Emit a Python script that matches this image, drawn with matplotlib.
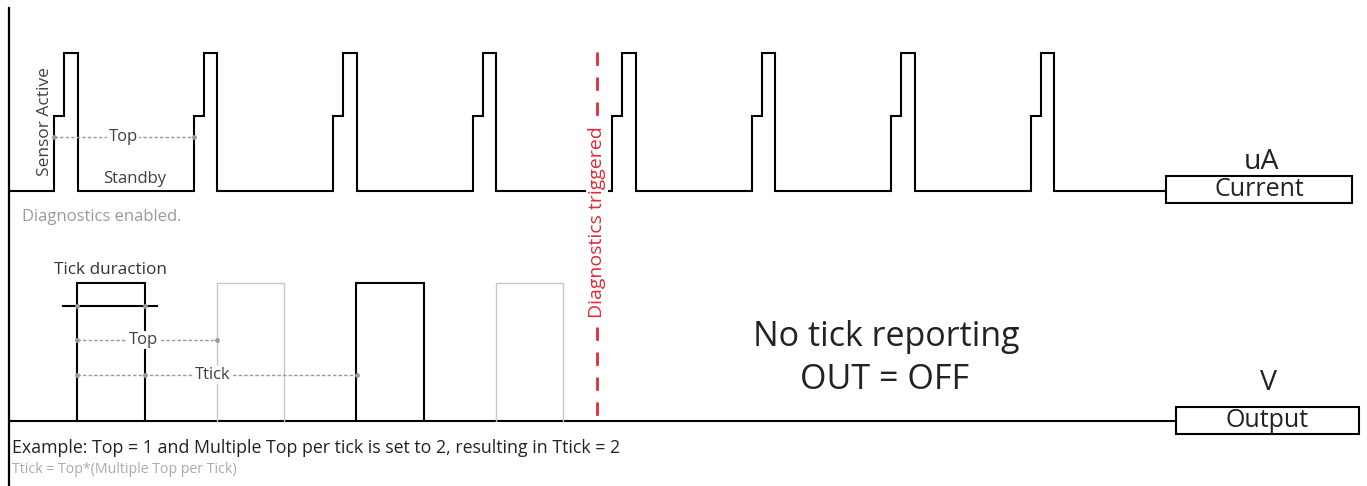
import numpy as np
import matplotlib.pyplot as plt
from matplotlib.patches import Rectangle

plt.rcParams['font.family'] = ['Open Sans', 'DejaVu Sans']

# Timing data, in units of Top (one sensor wake-up period)
pulse_starts = [0, 1, 2, 3, 4, 5, 6, 7]      # sensor active pulses
pulse_levels = [0.0, 0.54, 1.0]              # standby, first step, fully active
pulse_step = 0.072                           # time at first step level
pulse_len = 0.172                            # total pulse length
diag_time = 3.89                             # diagnostics triggered

tick_starts = [0.165, 1.165, 2.165, 3.165]   # output tick windows
tick_len = 0.487
tick_reported = [True, False, True, False]
tick_dur_span = (0.065, 0.738)
top_span_cur = (0.0, 1.0)
top_span_out = (0.165, 1.165)
ttick_span = (0.165, 2.172)

# Layout (pixels)
X0, PX_TOP = 54, 139.5
LEFT = 9
CUR_BASE, OUT_BASE, HEIGHT = 191, 421, 138
RED = '#e02a36'
GRAY = '#9a9a9a'


def tx(t):
    return X0 + PX_TOP * np.asarray(t)


def cur_y(level):
    return CUR_BASE - level * HEIGHT


fig = plt.figure(figsize=(13.67, 4.86), dpi=100)
ax = fig.add_axes([0, 0, 1, 1])
ax.set_xlim(0, 1367)
ax.set_ylim(486, 0)
ax.axis('off')

# left border
ax.plot([LEFT, LEFT], [8, 486], color='black', lw=1.6)

# current trace
xs, ys = [LEFT], [cur_y(0)]
for s in pulse_starts:
    pts_t = [s, s, s + pulse_step, s + pulse_step, s + pulse_len, s + pulse_len]
    pts_l = [0, pulse_levels[1], pulse_levels[1], pulse_levels[2], pulse_levels[2], 0]
    xs += list(tx(pts_t))
    ys += [cur_y(l) for l in pts_l]
xs.append(1166)
ys.append(cur_y(0))
ax.plot(xs, ys, color='black', lw=1.5, solid_joinstyle='miter')

# output trace
ax.plot([LEFT, 1176], [OUT_BASE, OUT_BASE], color='black', lw=1.5)
for s, rep in zip(tick_starts, tick_reported):
    x1, x2 = tx(s), tx(s + tick_len)
    ax.plot([x1, x1, x2, x2], [OUT_BASE, OUT_BASE - HEIGHT, OUT_BASE - HEIGHT, OUT_BASE],
            color='black' if rep else '#c8c8c8', lw=1.5 if rep else 1.0,
            solid_joinstyle='miter', zorder=2)

# tick duration marker
ax.plot(tx(tick_dur_span), [306, 306], color='black', lw=1.5, zorder=3)
ax.plot(tx([tick_starts[0], tick_starts[0] + tick_len]), [306, 306], 'o',
        color=GRAY, ms=2.5, zorder=4)


def span(t_pair, y, label, lx=None, extra=()):
    ax.plot(tx(t_pair), [y, y], color=GRAY, lw=1, ls=(0, (2.5, 1.5)), zorder=3)
    ax.plot(list(tx(t_pair)) + list(tx(list(extra))), [y] * (2 + len(extra)), 'o',
            color=GRAY, ms=2.5, zorder=4)
    cx = lx if lx is not None else tx(t_pair).mean()
    ax.text(cx, y, label, ha='center', va='center', fontsize=12, color='#404040',
            bbox=dict(fc='white', ec='none', pad=1), zorder=5)


span(top_span_cur, 137, 'Top', lx=123)
span(top_span_out, 340, 'Top', lx=143)
span(ttick_span, 375, 'Ttick', lx=213, extra=[tick_starts[0] + tick_len])

# diagnostics line
xd = tx(diag_time)
ax.plot([xd, xd], [52, OUT_BASE], color=RED, lw=2, ls=(0, (4.8, 4.2)), zorder=4)
ax.text(xd, 222, 'Diagnostics triggered', rotation=90, ha='center', va='center',
        fontsize=14, color=RED, bbox=dict(fc='white', ec='none', pad=1.5), zorder=6)

# labels
ax.text(45, 122, 'Sensor Active', rotation=90, ha='center', va='center',
        fontsize=12.5, color='#404040')
ax.text(135, 179, 'Standby', ha='center', va='center', fontsize=12, color='#404040')
ax.text(22, 217, 'Diagnostics enabled.', ha='left', va='center', fontsize=12, color=GRAY)
ax.text(54, 270, 'Tick duraction', ha='left', va='center', fontsize=12.3, color='#333333')
ax.text(886, 337, 'No tick reporting', ha='center', va='center', fontsize=24.5, color='#222222')
ax.text(885, 380, 'OUT = OFF', ha='center', va='center', fontsize=24.5, color='#222222')
ax.text(12, 448, 'Example: Top = 1 and Multiple Top per tick is set to 2, resulting in Ttick = 2',
        ha='left', va='center', fontsize=12.8, color='#222222')
ax.text(12, 469, 'Ttick = Top*(Multiple Top per Tick)', ha='left', va='center',
        fontsize=10.2, color='#aaaaaa')

# signal boxes
ax.add_patch(Rectangle((1166, 176), 186, 27, fc='white', ec='black', lw=1.5))
ax.text(1259, 189, 'Current', ha='center', va='center', fontsize=18, color='#222222')
ax.text(1262, 162, 'uA', ha='center', va='center', fontsize=20.5, color='#222222')
ax.add_patch(Rectangle((1176, 407), 183, 27, fc='white', ec='black', lw=1.5))
ax.text(1267, 420, 'Output', ha='center', va='center', fontsize=18, color='#222222')
ax.text(1268, 383, 'V', ha='center', va='center', fontsize=20.5, color='#222222')

fig.savefig('out.png', dpi=100)
